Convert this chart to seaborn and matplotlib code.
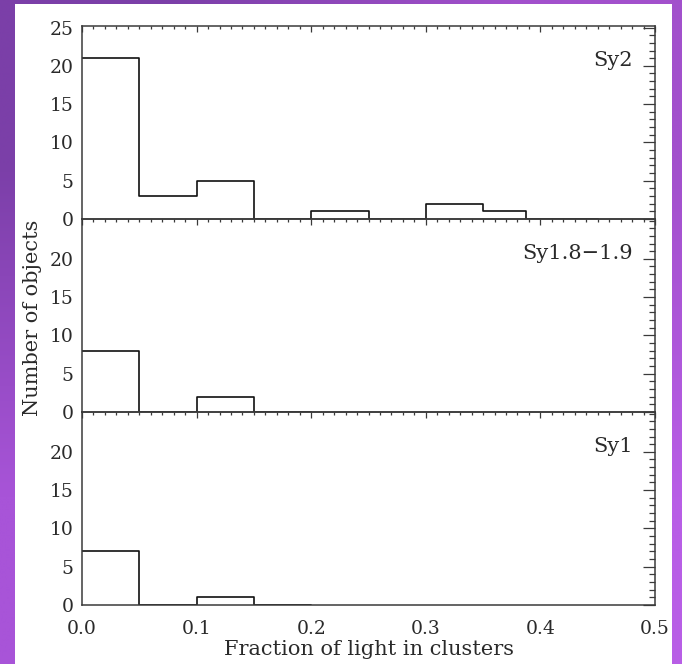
import numpy as np
import pandas as pd
import seaborn as sns
import matplotlib
matplotlib.use("Agg")
import matplotlib.pyplot as plt
from matplotlib.patches import Rectangle
from matplotlib.ticker import MultipleLocator, FixedLocator

# ---- data ----
# a trailing empty bin closes each outline down to the baseline
edges_sy2 = [0.0, 0.05, 0.10, 0.15, 0.20, 0.25, 0.30, 0.35, 0.387, 0.45]
counts_sy2 = [21, 3, 5, 0, 1, 0, 2, 1, 0]
edges_sy18 = [0.0, 0.05, 0.10, 0.15, 0.20]
counts_sy18 = [8, 0, 2, 0]
edges_sy1 = [0.0, 0.05, 0.10, 0.15, 0.20]
counts_sy1 = [7, 0, 1, 0]
panel_labels = ["Sy2", "Sy1.8\u22121.9", "Sy1"]
x_ticks = [0.0, 0.1, 0.2, 0.3, 0.4, 0.5]
x_ticklabels = ["0.0", "0.1", "0.2", "0.3", "0.4", "0.5"]
y_ticks_top = [0, 5, 10, 15, 20, 25]
y_ticks_low = [0, 5, 10, 15, 20]
xlabel = "Fraction of light in clusters"
ylabel = "Number of objects"

sns.set_style("white")
plt.rcParams["font.family"] = ["DejaVu Serif"]

W, H = 682, 664
fig = plt.figure(figsize=(W / 100, H / 100), dpi=100)

# purple gradient background
bg = fig.add_axes([0, 0, 1, 1], zorder=-10)
corners = np.array([[[123, 63, 168], [162, 80, 204]],
                    [[168, 84, 216], [184, 94, 230]]]) / 255.0
bg.imshow(corners, interpolation="bilinear", aspect="auto", extent=[0, 1, 0, 1])
bg.set_axis_off()
fig.patches.append(Rectangle((15 / W, 0), (672 - 15) / W, 1 - 4 / H,
                             transform=fig.transFigure, facecolor="white",
                             edgecolor="none", zorder=-5))

left = 82 / W
right = 655 / W
top = 1 - 26 / H
bottom = 1 - 605 / H
ph = (top - bottom) / 3

datasets = [(edges_sy2, counts_sy2), (edges_sy18, counts_sy18), (edges_sy1, counts_sy1)]
axc = "#3a3a3a"
tc = "#2a2a2a"
fs_tick = 13.5
fs_lab = 15
axes = []
for i, (edges, counts) in enumerate(datasets):
    ax = fig.add_axes([left, top - (i + 1) * ph, right - left, ph])
    ax.set_facecolor("none")
    centers = [(edges[k] + edges[k + 1]) / 2 for k in range(len(counts))]
    df = pd.DataFrame({"x": centers, "w": counts})
    sns.histplot(data=df, x="x", weights="w", bins=edges, element="step",
                 fill=False, color="#111111", linewidth=1.2, ax=ax)
    ax.set_xlim(0, 0.5)
    ax.set_ylim(0, 25.2)
    ax.set_xlabel("")
    ax.set_ylabel("")
    ax.xaxis.set_major_locator(FixedLocator(x_ticks))
    ax.xaxis.set_minor_locator(MultipleLocator(0.01))
    ax.yaxis.set_major_locator(FixedLocator(y_ticks_top if i == 0 else y_ticks_low))
    ax.yaxis.set_minor_locator(MultipleLocator(1))
    ax.tick_params(axis="both", which="both", direction="in", top=True, right=True,
                   color=axc, width=0.9, labelsize=fs_tick, labelcolor=tc)
    ax.tick_params(axis="y", which="major", length=8.6, pad=6)
    ax.tick_params(axis="y", which="minor", length=4.6)
    ax.tick_params(axis="x", which="major", length=4.0, pad=11)
    ax.tick_params(axis="x", which="minor", length=2.2)
    for s in ax.spines.values():
        s.set_color(axc)
        s.set_linewidth(1.1)
        s.set_visible(True)
    if i < 2:
        ax.set_xticklabels([])
    else:
        ax.set_xticklabels(x_ticklabels)
        ax.set_xlabel(xlabel, fontsize=fs_lab, color=tc, labelpad=1)
    ax.text(0.962, 0.82, panel_labels[i], transform=ax.transAxes, ha="right",
            va="center", fontsize=fs_lab, color=tc)
    axes.append(ax)

fig.text(33 / W, 1 - 318 / H, ylabel, rotation=90, ha="center", va="center",
         fontsize=fs_lab, color=tc)

fig.savefig("out.png", dpi=100)
